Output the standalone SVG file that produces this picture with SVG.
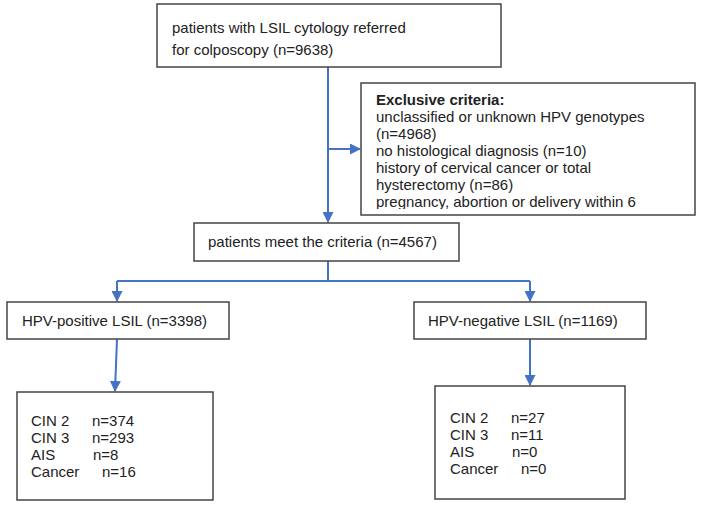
<svg xmlns="http://www.w3.org/2000/svg" width="702" height="506" viewBox="0 0 702 506">
<defs>
<marker id="ah" markerWidth="11" markerHeight="11" refX="10" refY="5.5" orient="auto" markerUnits="userSpaceOnUse">
<path d="M0,0 L11,5.5 L0,11 Z" fill="#4472C4"/>
</marker>
<clipPath id="exclip"><rect x="362" y="84" width="332" height="125"/></clipPath>
<style>
.box{fill:#fff;stroke:#444;stroke-width:1.5}
.t{font-family:"Liberation Sans",Arial,sans-serif;font-size:15px;fill:#222}
.b{font-weight:bold}
.c{fill:none;stroke:#4472C4;stroke-width:2}
</style>
</defs>
<rect width="702" height="506" fill="#fff"/>
<g id="connectors">
<path class="c" d="M328,67 V222" marker-end="url(#ah)"/>
<path class="c" d="M328,149 H360" marker-end="url(#ah)"/>
<path class="c" d="M328,261 V281"/>
<path class="c" d="M117,281 H530"/>
<path class="c" d="M117,281 V301" marker-end="url(#ah)"/>
<path class="c" d="M530,281 V301" marker-end="url(#ah)"/>
<path class="c" d="M117,339 L115,391" marker-end="url(#ah)"/>
<path class="c" d="M530,339 V385" marker-end="url(#ah)"/>
</g>
<g id="n-start">
<rect class="box" x="157" y="4" width="344" height="63"/>
<text class="t" x="172" y="33">patients with LSIL cytology referred</text>
<text class="t" x="172" y="55">for colposcopy (n=9638)</text>
</g>
<g id="n-exclusion">
<rect class="box" x="361" y="83" width="334" height="132"/>
<g clip-path="url(#exclip)">
<text class="t b" x="376" y="105">Exclusive criteria:</text>
<text class="t" x="376" y="122">unclassified or unknown HPV genotypes</text>
<text class="t" x="376" y="139">(n=4968)</text>
<text class="t" x="376" y="156">no histological diagnosis (n=10)</text>
<text class="t" x="376" y="173">history of cervical cancer or total</text>
<text class="t" x="376" y="190">hysterectomy (n=86)</text>
<text class="t" x="376" y="207">pregnancy, abortion or delivery within 6</text>
</g>
</g>
<g id="n-meet">
<rect class="box" x="194" y="223" width="265" height="38"/>
<text class="t" x="208" y="247">patients meet the criteria (n=4567)</text>
</g>
<g id="n-pos">
<rect class="box" x="7" y="302" width="222" height="37"/>
<text class="t" x="22" y="326">HPV-positive LSIL (n=3398)</text>
</g>
<g id="n-neg">
<rect class="box" x="414" y="302" width="232" height="37"/>
<text class="t" x="428" y="326">HPV-negative LSIL (n=1169)</text>
</g>
<g id="n-pos-res">
<rect class="box" x="17" y="392" width="196" height="108"/>
<text class="t" x="31" y="426">CIN 2</text><text class="t" x="92" y="426">n=374</text>
<text class="t" x="31" y="443">CIN 3</text><text class="t" x="92" y="443">n=293</text>
<text class="t" x="31" y="460">AIS</text><text class="t" x="93" y="460">n=8</text>
<text class="t" x="31" y="477">Cancer</text><text class="t" x="102" y="477">n=16</text>
</g>
<g id="n-neg-res">
<rect class="box" x="435" y="386" width="190" height="113"/>
<text class="t" x="450" y="423">CIN 2</text><text class="t" x="511" y="423">n=27</text>
<text class="t" x="450" y="440">CIN 3</text><text class="t" x="511" y="440">n=11</text>
<text class="t" x="450" y="457">AIS</text><text class="t" x="512" y="457">n=0</text>
<text class="t" x="450" y="474">Cancer</text><text class="t" x="521" y="474">n=0</text>
</g>
</svg>
